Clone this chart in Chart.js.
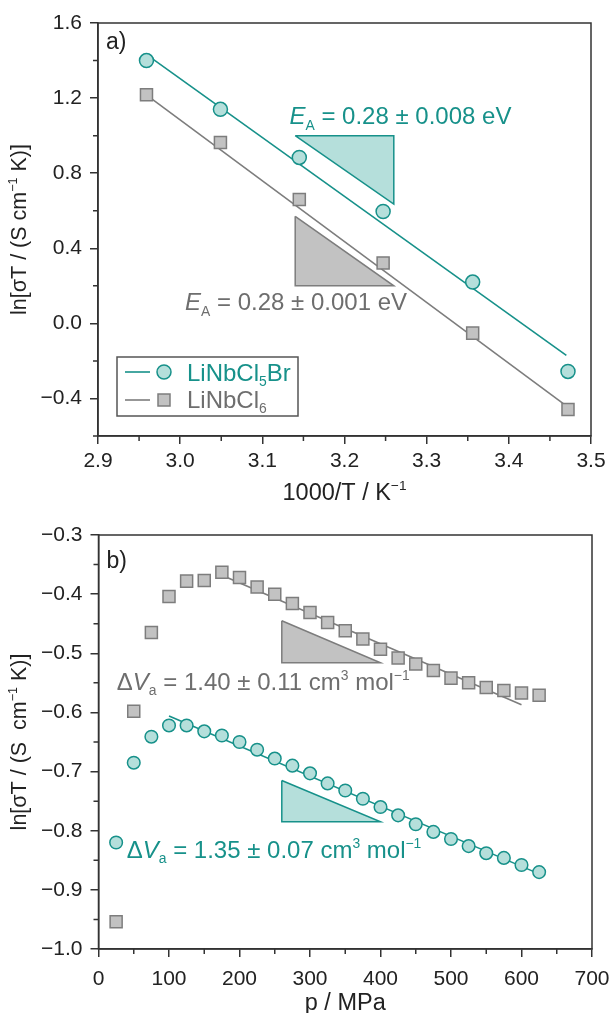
<!DOCTYPE html>
<html>
<head>
<meta charset="utf-8">
<script src="https://cdn.jsdelivr.net/npm/chart.js@4.4.0/dist/chart.umd.min.js"></script>
<style>
  html, body { margin: 0; padding: 0; background: #fff; }
  #wrap { position: relative; width: 609px; height: 1013px; }
  #cA { position: absolute; left: 0; top: 0; }
  #cB { position: absolute; left: 0; top: 515px; }
</style>
</head>
<body>
<div id="wrap">
  <canvas id="cA" width="609" height="515"></canvas>
  <canvas id="cB" width="609" height="498"></canvas>
</div>
<script>
const FONT = '"Liberation Sans", Arial, sans-serif';
const TEAL = '#17918a';
const TEAL_FILL = '#b5dfdb';
const GREY = '#7d7d7d';
const GREY_FILL = '#c2c2c2';
const GREY_TEXT = '#6e6e6e';
const INK = '#222';
const TICK_SIZE = 21;
const XTITLE_SIZE = 23.5;
const YTITLE_SIZE = 21.5;
const NOTE_SIZE = 24;

// ---- (a) Arrhenius plot ----
const invT = [2.959, 3.049, 3.145, 3.247, 3.356, 3.472];
const brA = [1.40, 1.14, 0.884, 0.596, 0.220, -0.256];   // LiNbCl5Br
const clA = [1.218, 0.964, 0.660, 0.322, -0.052, -0.459]; // LiNbCl6
const brFitA = [[2.963, 1.42], [3.470, -0.17]];
const clFitA = [[2.958, 1.22], [3.470, -0.44]];
const triBrA = [[3.14, 1.0], [3.26, 1.0], [3.26, 0.635], [3.14, 1.0]];
const triClA = [[3.14, 0.57], [3.14, 0.2], [3.26, 0.2], [3.14, 0.57]];
const xTicksA = [2.9, 3.0, 3.1, 3.2, 3.3, 3.4, 3.5];
const xMinorA = [2.95, 3.05, 3.15, 3.25, 3.35, 3.45];
const yTicksA = [-0.4, 0.0, 0.4, 0.8, 1.2, 1.6];
const yMinorA = [-0.6, -0.2, 0.2, 0.6, 1.0, 1.4];

// ---- (b) pressure dependence ----
const pres = [25, 50, 75, 100, 125, 150, 175, 200, 225, 250, 275, 300, 325,
              350, 375, 400, 425, 450, 475, 500, 525, 550, 575, 600, 625];
const clB = [-0.954, -0.598, -0.465, -0.404, -0.378, -0.377, -0.363, -0.372, -0.388,
             -0.400, -0.416, -0.431, -0.448, -0.462, -0.476, -0.493, -0.508, -0.518,
             -0.529, -0.542, -0.550, -0.558, -0.563, -0.567, -0.571];
const brB = [-0.820, -0.685, -0.641, -0.622, -0.622, -0.632, -0.639, -0.650, -0.663,
             -0.678, -0.690, -0.703, -0.720, -0.732, -0.746, -0.760, -0.774, -0.789,
             -0.802, -0.814, -0.826, -0.838, -0.846, -0.858, -0.870];
const brFitB = [[100, -0.606], [625, -0.873]];
const clFitB = [[175, -0.368], [600, -0.587]];
const triClB = [[260, -0.445], [260, -0.516], [400, -0.516], [260, -0.445]];
const triBrB = [[260, -0.715], [260, -0.785], [400, -0.785], [260, -0.715]];
const xTicksB = [0, 100, 200, 300, 400, 500, 600, 700];
const xMinorB = [50, 150, 250, 350, 450, 550, 650];
const yTicksB = [-1.0, -0.9, -0.8, -0.7, -0.6, -0.5, -0.4, -0.3];
const yMinorB = [-0.95, -0.85, -0.75, -0.65, -0.55, -0.45, -0.35];

const pts = (xs, ys) => xs.map((x, i) => ({ x: x, y: ys[i] }));
const pairs = arr => arr.map(p => ({ x: p[0], y: p[1] }));
const fmtNum = v => (v < -1e-9 ? '\u2212' : '') + Math.abs(v).toFixed(1);

// rich text helper: parts = [[text, mode]], mode '' | 'i' | 'sub' | 'sup'
function richWidth(ctx, parts, size) {
  let w = 0;
  for (const [t, m] of parts) {
    const fs = (m === 'sub' || m === 'sup') ? size * 0.58 : size;
    ctx.font = (m === 'i' ? 'italic ' : '') + fs + 'px ' + FONT;
    w += ctx.measureText(t).width;
  }
  return w;
}
function rich(ctx, x, y, parts, size, color) {
  ctx.save();
  ctx.fillStyle = color;
  ctx.textAlign = 'left';
  ctx.textBaseline = 'alphabetic';
  let cx = x;
  for (const [t, m] of parts) {
    let fs = size, dy = 0;
    if (m === 'sub') { fs = size * 0.58; dy = size * 0.22; }
    if (m === 'sup') { fs = size * 0.58; dy = -size * 0.42; }
    ctx.font = (m === 'i' ? 'italic ' : '') + fs + 'px ' + FONT;
    ctx.fillText(t, cx, y + dy);
    cx += ctx.measureText(t).width;
  }
  ctx.restore();
}

function decorPlugin(cfg) {
  return {
    id: 'decor',
    afterDraw(chart) {
      const ctx = chart.ctx;
      const a = chart.chartArea;
      const xs = chart.scales.x, ys = chart.scales.y;
      ctx.save();
      // frame
      ctx.strokeStyle = '#333';
      ctx.lineWidth = 1.5;
      ctx.strokeRect(a.left, a.top, a.right - a.left, a.bottom - a.top);
      // minor ticks
      ctx.beginPath();
      cfg.xMinor.forEach(v => {
        const px = xs.getPixelForValue(v);
        ctx.moveTo(px, a.bottom); ctx.lineTo(px, a.bottom + 5);
      });
      cfg.yMinor.forEach(v => {
        const py = ys.getPixelForValue(v);
        ctx.moveTo(a.left, py); ctx.lineTo(a.left - 5, py);
      });
      ctx.stroke();
      ctx.restore();

      // panel letter
      rich(ctx, a.left + 8, a.top + cfg.letterDy, [[cfg.letter, '']], 23, INK);

      // axis titles
      const xw = richWidth(ctx, cfg.xTitle, XTITLE_SIZE);
      rich(ctx, (a.left + a.right) / 2 - xw / 2, cfg.xTitleY, cfg.xTitle, XTITLE_SIZE, INK);
      const yw = richWidth(ctx, cfg.yTitle, YTITLE_SIZE);
      ctx.save();
      ctx.translate(26, (a.top + a.bottom) / 2);
      ctx.rotate(-Math.PI / 2);
      rich(ctx, -yw / 2, 0, cfg.yTitle, YTITLE_SIZE, INK);
      ctx.restore();

      // annotations
      cfg.notes.forEach(n => {
        rich(ctx, xs.getPixelForValue(n.x), ys.getPixelForValue(n.y), n.parts, NOTE_SIZE, n.color);
      });

      if (cfg.legend) cfg.legend(ctx);
    }
  };
}

function scaleOpts(min, max, ticks, fmt, isX, fitSize, pad) {
  return {
    type: 'linear',
    min: min, max: max,
    afterBuildTicks: s => { s.ticks = ticks.map(v => ({ value: v })); },
    afterFit: s => {
      if (isX) s.height = fitSize; else s.width = fitSize;
      s.paddingLeft = 0; s.paddingRight = 0; s.paddingTop = 0; s.paddingBottom = 0;
    },
    ticks: {
      callback: fmt,
      font: { size: TICK_SIZE, family: FONT },
      color: INK,
      padding: pad,
      maxRotation: 0,
      autoSkip: false
    },
    grid: { drawOnChartArea: false, tickLength: 8, color: '#333', lineWidth: 1.5 },
    border: { color: '#333', width: 1.5 }
  };
}

function pointSet(data, style, r, fill, stroke) {
  return {
    data: data, showLine: false, pointStyle: style, pointRadius: r,
    pointBackgroundColor: fill, pointBorderColor: stroke, pointBorderWidth: 1.5, order: 0
  };
}
function lineSet(data, color) {
  return { data: data, showLine: true, borderColor: color, borderWidth: 1.6, pointRadius: 0, order: 1 };
}
function triSet(data, fill, stroke) {
  return {
    data: data, showLine: true, borderColor: stroke, borderWidth: 1.5, pointRadius: 0,
    backgroundColor: fill, fill: 'shape', tension: 0, order: 2
  };
}

const common = {
  responsive: false,
  animation: false,
  events: [],
  plugins: { legend: { display: false }, tooltip: { enabled: false } }
};

// chart (a)
new Chart(document.getElementById('cA'), {
  type: 'scatter',
  data: {
    datasets: [
      triSet(pairs(triBrA), TEAL_FILL, TEAL),
      triSet(pairs(triClA), GREY_FILL, GREY),
      lineSet(pairs(brFitA), TEAL),
      lineSet(pairs(clFitA), GREY),
      pointSet(pts(invT, brA), 'circle', 7, TEAL_FILL, TEAL),
      pointSet(pts(invT, clA), 'rect', 8.5, GREY_FILL, GREY)
    ]
  },
  options: Object.assign({}, common, {
    layout: { padding: { top: 23, right: 18, left: 0, bottom: 0 } },
    scales: {
      x: scaleOpts(2.9, 3.5, xTicksA, fmtNum, true, 79, 5),
      y: scaleOpts(-0.6, 1.6, yTicksA, fmtNum, false, 98, 8)
    }
  }),
  plugins: [decorPlugin({
    xMinor: xMinorA, yMinor: yMinorA,
    letter: 'a)', letterDy: 26,
    xTitle: [['1000/T / K', ''], ['\u22121', 'sup']], xTitleY: 500,
    yTitle: [['ln[\u03c3T / (S cm', ''], ['\u22121', 'sup'], [' K)]', '']],
    notes: [
      { x: 3.133, y: 1.06, color: TEAL,
        parts: [['E', 'i'], ['A', 'sub'], [' = 0.28 \u00b1 0.008 eV', '']] },
      { x: 3.006, y: 0.07, color: GREY_TEXT,
        parts: [['E', 'i'], ['A', 'sub'], [' = 0.28 \u00b1 0.001 eV', '']] }
    ],
    legend: ctx => {
      ctx.save();
      ctx.strokeStyle = '#555'; ctx.lineWidth = 1.5;
      ctx.strokeRect(117, 357, 181, 59);
      ctx.lineWidth = 1.6;
      ctx.strokeStyle = TEAL;
      ctx.beginPath(); ctx.moveTo(125, 372); ctx.lineTo(150, 372); ctx.stroke();
      ctx.fillStyle = TEAL_FILL; ctx.lineWidth = 1.5;
      ctx.beginPath(); ctx.arc(164, 372, 7, 0, Math.PI * 2); ctx.fill(); ctx.stroke();
      ctx.strokeStyle = GREY; ctx.lineWidth = 1.6;
      ctx.beginPath(); ctx.moveTo(125, 400); ctx.lineTo(150, 400); ctx.stroke();
      ctx.fillStyle = GREY_FILL; ctx.lineWidth = 1.5;
      ctx.fillRect(158, 394, 12, 12); ctx.strokeRect(158, 394, 12, 12);
      ctx.restore();
      rich(ctx, 187, 381, [['LiNbCl', ''], ['5', 'sub'], ['Br', '']], NOTE_SIZE, TEAL);
      rich(ctx, 187, 408, [['LiNbCl', ''], ['6', 'sub']], NOTE_SIZE, GREY_TEXT);
    }
  })]
});

// chart (b)
new Chart(document.getElementById('cB'), {
  type: 'scatter',
  data: {
    datasets: [
      triSet(pairs(triClB), GREY_FILL, GREY),
      triSet(pairs(triBrB), TEAL_FILL, TEAL),
      lineSet(pairs(clFitB), GREY),
      lineSet(pairs(brFitB), TEAL),
      pointSet(pts(pres, clB), 'rect', 8.5, GREY_FILL, GREY),
      pointSet(pts(pres, brB), 'circle', 6.3, TEAL_FILL, TEAL)
    ]
  },
  options: Object.assign({}, common, {
    layout: { padding: { top: 20, right: 17, left: 0, bottom: 0 } },
    scales: {
      x: scaleOpts(0, 700, xTicksB, v => String(v), true, 64, 10),
      y: scaleOpts(-1.0, -0.3, yTicksB, fmtNum, false, 98.5, 8)
    }
  }),
  plugins: [decorPlugin({
    xMinor: xMinorB, yMinor: yMinorB,
    letter: 'b)', letterDy: 33,
    xTitle: [['p / MPa', '']], xTitleY: 495,
    yTitle: [['ln[\u03c3T / (S  cm', ''], ['\u22121', 'sup'], [' K)]', '']],
    notes: [
      { x: 26, y: -0.562, color: GREY_TEXT,
        parts: [['\u0394', ''], ['V', 'i'], ['a', 'sub'], [' = 1.40 \u00b1 0.11 cm', ''], ['3', 'sup'], [' mol', ''], ['\u22121', 'sup']] },
      { x: 40, y: -0.846, color: TEAL,
        parts: [['\u0394', ''], ['V', 'i'], ['a', 'sub'], [' = 1.35 \u00b1 0.07 cm', ''], ['3', 'sup'], [' mol', ''], ['\u22121', 'sup']] }
    ]
  })]
});
</script>
</body>
</html>
